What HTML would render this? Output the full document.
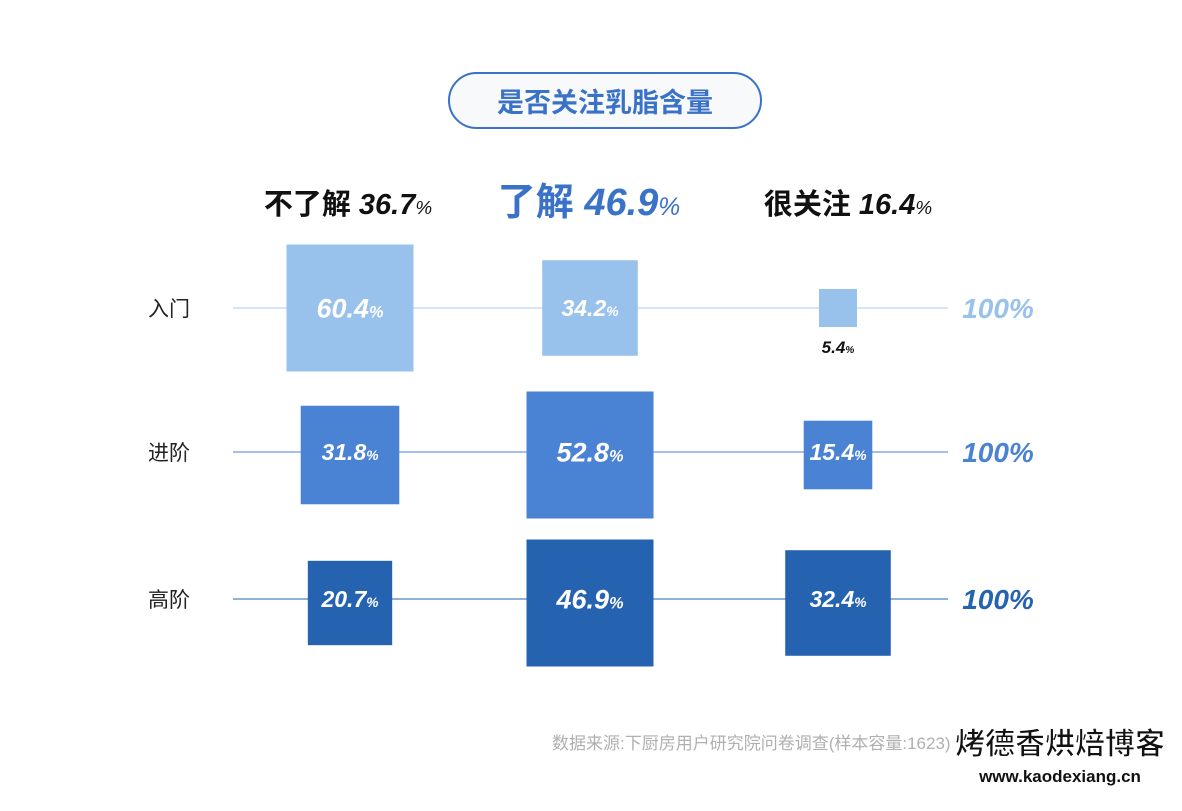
<!DOCTYPE html>
<html><head><meta charset="utf-8"><style>
body{margin:0;background:#fff;}
svg{display:block;font-family:"Liberation Sans","Noto Sans CJK SC",sans-serif;}
</style></head><body>
<svg id="c" width="1182" height="811">
<rect x="449" y="73" width="312" height="55" rx="27.5" fill="#f8f9fb" stroke="#3a72c8" stroke-width="2"/>
<text x="605" y="112" text-anchor="middle" font-size="27" font-weight="bold" fill="#3a72c8">是否关注乳脂含量</text>
<g id="heads"></g>
<g id="rows"></g>
<text x="552" y="749" font-size="17" fill="#b0b0b0">数据来源:下厨房用户研究院问卷调查(样本容量:1623)</text>
<text x="1060" y="754" text-anchor="middle" font-size="30" font-weight="bold" fill="#111" stroke="#fff" stroke-width="1">烤德香烘焙博客</text>
<text x="1060" y="782" text-anchor="middle" font-size="17" font-weight="bold" fill="#111">www.kaodexiang.cn</text>
</svg>
<script>
const categories=["不了解","了解","很关注"];
const categoryShares=[36.7,46.9,16.4];
const rowLabels=["入门","进阶","高阶"];
const rowValues=[[60.4,34.2,5.4],[31.8,52.8,15.4],[20.7,46.9,32.4]];
const totals=["100%","100%","100%"];
const colX=[350,590,838], rowY=[308,452,599];
const sqOffset=[0,3,4];
const rowColors=["#98c2ec","#4a82d4","#2563b0"];
const lineColors=["#a9cbef","#4a82d4","#2563b0"];
const maxSide=127;
const NS="http://www.w3.org/2000/svg";
function mk(tag,attrs,parent){const e=document.createElementNS(NS,tag);for(const k in attrs)e.setAttribute(k,attrs[k]);parent.appendChild(e);return e;}
const heads=document.getElementById('heads'), rows=document.getElementById('rows');
const headFS=[29,38,29], headCol=["#111","#3a72c8","#111"], headX=[348,589,848];
categories.forEach((c,i)=>{
  const t=mk('text',{x:headX[i],y:[214,215,214][i],'text-anchor':'middle','font-size':headFS[i],'font-weight':'bold',fill:headCol[i]},heads);
  
  
  const a=document.createElementNS(NS,'tspan');a.textContent=c+' ';t.appendChild(a);
  const b=document.createElementNS(NS,'tspan');b.setAttribute('font-style','italic');b.textContent=categoryShares[i].toFixed(1);t.appendChild(b);
  const d=document.createElementNS(NS,'tspan');d.setAttribute('font-style','italic');d.setAttribute('font-size',headFS[i]*0.65);d.setAttribute('font-weight','normal');d.textContent='%';t.appendChild(d);
});
rowLabels.forEach((r,ri)=>{
  const y=rowY[ri];
  const ln=mk('line',{x1:233,x2:948,y1:y,y2:y,stroke:lineColors[ri],'stroke-width':1},rows);
  
  
  const lb=mk('text',{x:148,y:y+8,'font-size':21,fill:'#222'},rows);lb.textContent=r;
  
  
  const mx=Math.max(...rowValues[ri]);
  rowValues[ri].forEach((v,ci)=>{
    const s=maxSide*Math.sqrt(v/mx);
    const cy=y+sqOffset[ri];
    const sq=mk('rect',{x:colX[ci]-s/2,y:cy-s/2,width:s,height:s,fill:rowColors[ri]},rows);
    
    
    const small=s<60;
    const fs=s>110?27:23;
    const t=mk('text',{x:colX[ci],y:small?cy+s/2+26:y+fs*0.35,'text-anchor':'middle','font-size':small?17:fs,'font-weight':'bold','font-style':'italic',fill:small?'#111':'#fff'},rows);
    
    
    const a=document.createElementNS(NS,'tspan');a.textContent=v.toFixed(1);t.appendChild(a);
    const b=document.createElementNS(NS,'tspan');b.setAttribute('font-size',(small?17:fs)*0.6);b.textContent='%';t.appendChild(b);
  });
  const tt=mk('text',{x:998,y:y+10,'text-anchor':'middle','font-size':28,'font-weight':'bold','font-style':'italic',fill:rowColors[ri]},rows);
  tt.textContent=totals[ri];
  
  
});
</script>
</body></html>
